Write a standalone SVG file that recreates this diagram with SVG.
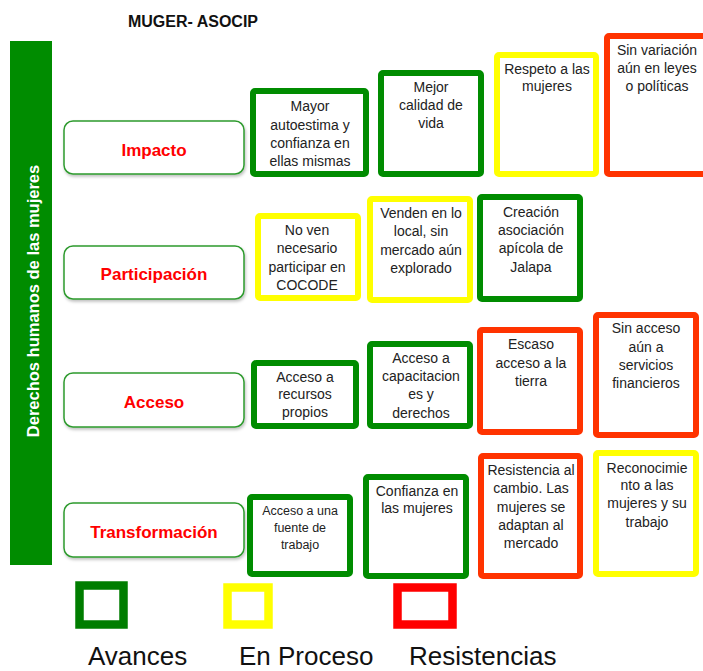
<svg xmlns="http://www.w3.org/2000/svg" width="703" height="671" viewBox="0 0 703 671">
<defs>
<style>
text{font-family:"Liberation Sans",Arial,sans-serif;}
.title{font-size:16px;font-weight:bold;fill:#111;}
.side{font-size:16.5px;font-weight:bold;fill:#fff;}
.lab{fill:#fff;stroke:#2e9a2e;stroke-width:1.5;}
.labt{font-size:17px;font-weight:bold;fill:#ff0000;text-anchor:middle;}
.g{fill:#fff;stroke:#008c00;stroke-width:6;}
.y{fill:#fff;stroke:#ffff00;stroke-width:6;}
.r{fill:#fff;stroke:#ff3300;stroke-width:6;}
.t{font-size:14px;fill:#222;text-anchor:middle;}
.ts{font-size:12.5px;fill:#222;text-anchor:middle;}
.leg{font-size:26px;fill:#111;}
</style>
<filter id="sh" x="-10%" y="-20%" width="130%" height="150%">
<feDropShadow dx="1" dy="2" stdDeviation="1.5" flood-color="#000" flood-opacity="0.25"/>
</filter>
</defs>
<rect width="703" height="671" fill="#fff"/>
<text class="title" x="193" y="27" text-anchor="middle">MUGER- ASOCIP</text>

<g id="side-bar">
<rect x="10" y="41" width="42" height="524" fill="#008c00"/>
<text class="side" transform="translate(39,301) rotate(-90)" text-anchor="middle">Derechos humanos de las mujeres</text>
</g>

<g id="label-impacto">
<rect class="lab" x="64" y="121" width="180" height="53" rx="9" filter="url(#sh)"/>
<text class="labt" x="154" y="156">Impacto</text>
</g>
<g id="label-participacion">
<rect class="lab" x="64" y="246" width="180" height="53" rx="9" filter="url(#sh)"/>
<text class="labt" x="154" y="280">Participación</text>
</g>
<g id="label-acceso">
<rect class="lab" x="64" y="373" width="180" height="54" rx="9" filter="url(#sh)"/>
<text class="labt" x="154" y="408">Acceso</text>
</g>
<g id="label-transformacion">
<rect class="lab" x="64" y="503" width="180" height="54" rx="9" filter="url(#sh)"/>
<text class="labt" x="154" y="538">Transformación</text>
</g>

<g id="impacto-1">
<rect class="g" x="253" y="91" width="113" height="83" rx="2"/>
<text class="t" x="310"><tspan x="310" y="111">Mayor</tspan><tspan x="310" y="130">autoestima y</tspan><tspan x="310" y="148">confianza en</tspan><tspan x="310" y="166">ellas mismas</tspan></text>
</g>
<g id="impacto-2">
<rect class="g" x="381" y="73" width="100" height="101" rx="2"/>
<text class="t" x="431"><tspan x="431" y="92">Mejor</tspan><tspan x="431" y="110">calidad de</tspan><tspan x="431" y="128">vida</tspan></text>
</g>
<g id="impacto-3">
<rect class="y" x="497" y="55" width="99" height="119" rx="2"/>
<text class="t" x="547"><tspan x="547" y="74">Respeto a las</tspan><tspan x="547" y="91">mujeres</tspan></text>
</g>
<g id="impacto-4">
<rect class="r" x="607" y="36" width="100" height="138" rx="2"/>
<text class="t" x="657"><tspan x="657" y="55">Sin variación</tspan><tspan x="657" y="73">aún en leyes</tspan><tspan x="657" y="91">o políticas</tspan></text>
</g>

<g id="participacion-1">
<rect class="y" x="258" y="216" width="100" height="82" rx="2"/>
<text class="t" x="307"><tspan x="307" y="235">No ven</tspan><tspan x="307" y="253">necesario</tspan><tspan x="307" y="272">participar en</tspan><tspan x="307" y="290">COCODE</tspan></text>
</g>
<g id="participacion-2">
<rect class="y" x="370" y="199" width="100" height="101" rx="2"/>
<text class="t" x="421"><tspan x="421" y="218">Venden en lo</tspan><tspan x="421" y="236">local, sin</tspan><tspan x="421" y="255">mercado aún</tspan><tspan x="421" y="273">explorado</tspan></text>
</g>
<g id="participacion-3">
<rect class="g" x="480" y="197" width="100" height="102" rx="2"/>
<text class="t" x="531"><tspan x="531" y="217">Creación</tspan><tspan x="531" y="235">asociación</tspan><tspan x="531" y="253">apícola de</tspan><tspan x="531" y="272">Jalapa</tspan></text>
</g>

<g id="acceso-1">
<rect class="g" x="254" y="363" width="102" height="63" rx="2"/>
<text class="t" x="305"><tspan x="305" y="382">Acceso a</tspan><tspan x="305" y="399">recursos</tspan><tspan x="305" y="417">propios</tspan></text>
</g>
<g id="acceso-2">
<rect class="g" x="370" y="344" width="100" height="82" rx="2"/>
<text class="t" x="421"><tspan x="421" y="363">Acceso a</tspan><tspan x="421" y="381">capacitacion</tspan><tspan x="421" y="399">es y</tspan><tspan x="421" y="418">derechos</tspan></text>
</g>
<g id="acceso-3">
<rect class="r" x="480" y="330" width="100" height="102" rx="2"/>
<text class="t" x="531"><tspan x="531" y="349">Escaso</tspan><tspan x="531" y="368">acceso a la</tspan><tspan x="531" y="386">tierra</tspan></text>
</g>
<g id="acceso-4">
<rect class="r" x="596" y="315" width="100" height="120" rx="2"/>
<text class="t" x="646"><tspan x="646" y="333">Sin acceso</tspan><tspan x="646" y="352">aún a</tspan><tspan x="646" y="370">servicios</tspan><tspan x="646" y="388">financieros</tspan></text>
</g>

<g id="transformacion-1">
<rect class="g" x="250" y="497" width="100" height="77" rx="2"/>
<text class="ts" x="300"><tspan x="300" y="515">Acceso a una</tspan><tspan x="300" y="532">fuente de</tspan><tspan x="300" y="549">trabajo</tspan></text>
</g>
<g id="transformacion-2">
<rect class="g" x="366" y="477" width="100" height="99" rx="2"/>
<text class="t" x="417"><tspan x="417" y="496">Confianza en</tspan><tspan x="417" y="513">las mujeres</tspan></text>
</g>
<g id="transformacion-3">
<rect class="r" x="481" y="456" width="99" height="120" rx="2"/>
<text class="t" x="531"><tspan x="531" y="475">Resistencia al</tspan><tspan x="531" y="493">cambio. Las</tspan><tspan x="531" y="512">mujeres se</tspan><tspan x="531" y="530">adaptan al</tspan><tspan x="531" y="548">mercado</tspan></text>
</g>
<g id="transformacion-4">
<rect class="y" x="596" y="453" width="100" height="121" rx="2"/>
<text class="t" x="647"><tspan x="647" y="473">Reconocimie</tspan><tspan x="647" y="490">nto a las</tspan><tspan x="647" y="508">mujeres y su</tspan><tspan x="647" y="527">trabajo</tspan></text>
</g>

<g id="legend">
<rect x="79.5" y="585.5" width="44" height="39" fill="#fff" stroke="#007d00" stroke-width="8.5"/>
<rect x="227.5" y="587.5" width="41" height="37" fill="#fff" stroke="#ffff00" stroke-width="8.5"/>
<rect x="397.5" y="587.5" width="55" height="37" fill="#fff" stroke="#ff0000" stroke-width="8.5"/>
<text class="leg" x="88" y="665">Avances</text>
<text class="leg" x="239" y="665">En Proceso</text>
<text class="leg" x="409" y="665">Resistencias</text>
</g>
<g id="connectors"></g>
</svg>
